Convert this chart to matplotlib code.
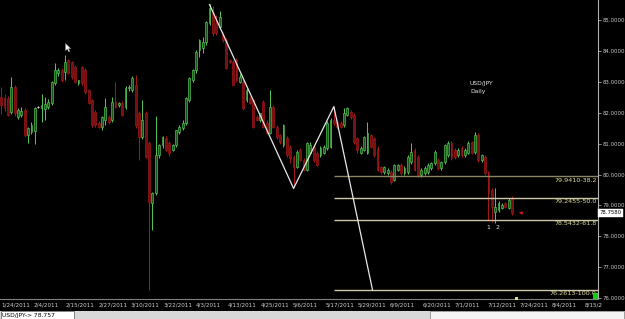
import numpy as np
import matplotlib
matplotlib.use("Agg")
import matplotlib.pyplot as plt
from matplotlib.patches import Rectangle
from matplotlib.path import Path
from matplotlib.transforms import blended_transform_factory

# ---------------- data ----------------
opens = [82.52, 82.48, 82.48, 82.02, 82.83, 81.86, 81.92, 82.09, 81.28, 81.38,
         81.40, 82.18, 82.15, 82.12, 82.18, 82.31, 82.96, 83.28, 83.38, 83.32,
         83.71, 83.64, 83.48, 82.96, 83.48, 83.38, 82.73, 82.41, 82.02, 81.67,
         81.54, 81.76, 81.86, 81.76, 82.35, 82.25, 82.31, 82.18, 82.80, 82.73,
         82.90, 81.99, 81.21, 81.99, 81.02, 79.08, 79.40, 80.63, 80.95, 81.18,
         81.02, 80.79, 80.95, 81.38, 81.50, 81.67, 82.41, 83.06, 83.38, 84.03,
         84.09, 84.29, 84.90, 85.23, 84.90, 84.77, 84.51, 84.35, 83.71, 83.64,
         83.71, 82.99, 82.99, 82.41, 82.48, 82.41, 81.86, 81.76, 82.35, 81.67,
         81.34, 82.18, 81.54, 81.28, 80.95, 81.18, 80.89, 80.57, 80.24, 80.79,
         80.47, 80.15, 80.70, 80.89, 80.70, 80.63, 80.70, 80.86, 80.89, 81.76,
         81.70, 81.67, 81.60, 81.93, 82.02, 81.93, 81.18, 80.70, 80.79, 80.70,
         81.28, 81.18, 80.86, 80.24, 80.08, 80.05, 80.08, 79.82, 80.15, 80.31,
         80.05, 80.08, 80.40, 80.79, 80.57, 79.98, 80.05, 80.08, 80.21, 80.37,
         80.47, 80.21, 80.40, 80.63, 81.02, 80.79, 80.63, 80.86, 80.63, 80.70,
         81.05, 80.73, 81.28, 80.47, 80.57, 80.08, 79.50, 78.79, 78.85, 78.92,
         79.08, 78.92, 79.24]
highs = [82.84, 82.60, 82.55, 83.16, 82.90, 82.15, 82.20, 82.15, 81.55, 81.70,
         82.20, 82.22, 82.60, 82.50, 82.45, 83.02, 83.61, 83.45, 83.45, 83.87,
         83.75, 83.68, 83.55, 83.05, 83.52, 83.45, 82.78, 82.45, 82.08, 81.72,
         81.90, 82.48, 81.92, 82.50, 82.99, 82.35, 82.38, 82.85, 82.90, 83.20,
         83.22, 82.05, 82.41, 82.05, 81.10, 79.45, 81.90, 81.00, 81.25, 81.25,
         81.08, 81.00, 81.45, 81.60, 81.75, 82.50, 83.15, 83.42, 84.02, 84.40,
         84.45, 84.98, 85.52, 85.45, 85.15, 85.30, 84.60, 84.42, 83.75, 83.70,
         83.78, 83.25, 83.05, 82.80, 82.55, 82.45, 81.92, 82.00, 82.40, 81.75,
         82.73, 82.25, 81.60, 81.32, 81.65, 81.25, 80.95, 80.62, 80.80, 80.85,
         80.52, 81.05, 81.05, 80.95, 80.75, 80.92, 80.95, 81.72, 81.82, 82.20,
         81.75, 81.72, 82.15, 82.20, 82.08, 82.00, 81.22, 80.92, 81.25, 81.70,
         81.32, 81.22, 80.92, 80.28, 80.28, 80.22, 80.15, 80.35, 80.35, 80.38,
         80.28, 80.62, 81.02, 80.85, 80.62, 80.20, 80.28, 80.36, 80.42, 80.78,
         80.52, 80.45, 81.00, 81.08, 81.08, 80.85, 80.85, 80.92, 80.85, 81.08,
         81.10, 81.38, 81.35, 80.68, 80.62, 80.12, 79.55, 79.56, 79.15, 79.08,
         79.12, 79.24, 79.30]
lows = [81.95, 82.05, 81.90, 81.95, 81.90, 81.80, 81.85, 81.20, 81.02, 81.30,
        81.00, 82.14, 81.70, 81.75, 82.12, 82.25, 82.90, 83.20, 82.99, 83.05,
        83.25, 83.10, 82.95, 82.90, 82.90, 82.62, 82.28, 81.55, 81.55, 81.50,
        81.45, 81.60, 81.65, 81.70, 82.15, 82.18, 81.88, 82.12, 82.72, 82.68,
        81.50, 80.47, 81.15, 80.55, 76.26, 78.20, 79.35, 80.55, 80.85, 80.75,
        80.60, 80.75, 80.90, 81.30, 81.45, 81.60, 82.35, 82.98, 83.30, 83.80,
        83.95, 84.20, 84.85, 84.50, 84.52, 84.70, 84.30, 83.40, 83.60, 82.90,
        83.00, 82.95, 82.10, 82.35, 82.28, 81.50, 81.72, 81.70, 81.50, 81.30,
        81.30, 81.50, 81.15, 81.00, 80.90, 80.58, 80.37, 79.58, 80.20, 80.45,
        80.10, 80.10, 80.65, 80.42, 80.28, 80.58, 80.65, 80.80, 80.85, 81.60,
        81.48, 81.50, 81.55, 81.88, 81.80, 81.00, 80.70, 80.65, 80.75, 80.65,
        80.85, 80.58, 80.10, 80.02, 80.02, 80.00, 79.70, 79.78, 80.10, 80.00,
        80.00, 80.02, 80.35, 80.10, 79.92, 79.92, 80.00, 80.02, 80.15, 80.30,
        80.15, 80.15, 80.35, 80.58, 80.48, 80.50, 80.58, 80.58, 80.58, 80.65,
        80.65, 80.68, 80.42, 80.42, 80.00, 78.53, 78.47, 78.43, 78.80, 78.88,
        78.90, 78.88, 78.68]
closes = [82.25, 82.15, 81.93, 82.83, 81.99, 82.09, 82.05, 81.28, 81.50, 81.60,
          82.15, 82.18, 82.25, 82.28, 82.35, 82.99, 83.38, 83.38, 83.06, 83.64,
          83.28, 83.16, 82.99, 83.06, 82.96, 82.67, 82.31, 81.60, 81.60, 81.54,
          81.86, 82.18, 81.70, 82.35, 82.20, 82.31, 81.93, 82.80, 82.83, 83.12,
          81.60, 81.21, 81.76, 80.57, 79.10, 79.40, 80.63, 80.95, 81.21, 80.79,
          80.70, 80.95, 81.44, 81.54, 81.67, 82.48, 83.12, 83.38, 83.96, 84.35,
          84.29, 84.94, 85.39, 84.58, 84.58, 85.10, 84.35, 83.45, 83.64, 82.90,
          83.06, 83.16, 82.15, 82.73, 82.31, 81.54, 81.76, 81.99, 81.54, 81.34,
          82.18, 81.54, 81.21, 81.05, 81.60, 80.63, 80.53, 80.24, 80.73, 80.47,
          80.15, 81.02, 80.95, 80.47, 80.31, 80.86, 80.89, 81.67, 81.76, 81.67,
          81.54, 81.54, 81.99, 82.15, 81.86, 81.05, 80.79, 80.86, 81.21, 81.34,
          80.89, 80.63, 80.15, 80.08, 80.24, 80.15, 79.76, 80.31, 80.31, 80.05,
          80.21, 80.57, 80.73, 80.15, 79.98, 80.15, 80.21, 80.31, 80.37, 80.73,
          80.21, 80.40, 80.95, 81.02, 80.53, 80.57, 80.79, 80.63, 80.79, 81.02,
          80.70, 81.28, 80.47, 80.63, 80.05, 79.40, 78.95, 78.95, 79.08, 79.01,
          78.95, 79.17, 78.76]

date_labels = ["1/24/2011", "2/4/2011", "2/15/2011", "2/27/2011", "3/10/2011",
               "3/22/2011", "4/3/2011", "4/13/2011", "4/25/2011", "5/6/2011",
               "5/17/2011", "5/29/2011", "6/9/2011", "6/20/2011", "7/1/2011",
               "7/12/2011", "7/24/2011", "8/4/2011", "8/15/2"]
label_step = 9.64          # bars between date labels

# zigzag swing points: (bar index, price)
zig_x = [62, 87, 99, 110.5]
zig_y = [85.50, 79.55, 82.20, 76.2613]

fib_levels = [79.9410, 79.2455, 78.5432, 76.2613]
fib_pcts = ["38.2", "50.0", "61.8", "100.0"]
fib_start = 99
last_price = 78.757

y_ticks = [76, 77, 78, 79, 80, 81, 82, 83, 84, 85]

NARROW = ["Liberation Sans Narrow", "DejaVu Sans"]

# ---------------- figure ----------------
W, H = 625, 319
fig = plt.figure(figsize=(W / 100, H / 100), dpi=100)
fig.patch.set_facecolor("black")

def fx(px):
    return px / W

def fy(py):
    return 1 - py / H

ax = fig.add_axes([0, fy(299), fx(598), 299 / H])
ax.set_facecolor("black")

n = len(closes)
xs = np.arange(n)
o = np.array(opens); c = np.array(closes)
hi = np.array(highs); lo = np.array(lows)
up = c > o
dn = c < o
eq = c == o

g_edge, g_face = "#58c858", "#1a561a"
r_edge, r_face = "#a81818", "#741010"

# wicks
ax.vlines(xs[up], lo[up], hi[up], color=g_edge, lw=0.7, zorder=2)
ax.vlines(xs[dn], lo[dn], hi[dn], color=r_edge, lw=0.7, zorder=2)
ax.vlines(xs[eq], lo[eq], hi[eq], color="#dddddd", lw=0.7, zorder=2)
bw = 0.55
ax.bar(xs[up], (c - o)[up], bottom=o[up], width=bw, color=g_face,
       edgecolor=g_edge, linewidth=0.45, zorder=3)
ax.bar(xs[dn], (o - c)[dn], bottom=c[dn], width=bw, color=r_face,
       edgecolor=r_edge, linewidth=0.45, zorder=3)
ax.hlines(o[eq], xs[eq] - bw / 2, xs[eq] + bw / 2, color="#dddddd", lw=0.8, zorder=3)

xmin, xmax = -0.36, 177.6
ax.set_xlim(xmin, xmax)
ax.set_ylim(75.97, 85.65)

# fib lines
fib_cols = ["#8c8462", "#cfc8a8", "#cfc8a8", "#cfc8a8"]
for lev, pct, col in zip(fib_levels, fib_pcts, fib_cols):
    ax.hlines(lev, fib_start, xmax, color=col, lw=1.0, zorder=4)
    ax.text(xmax - 0.4, lev - 0.04, f"{lev:.4f}-{pct}", color="#dede9a",
            fontsize=4.6, ha="right", va="top", zorder=5, family=NARROW)

# zigzag
ax.plot(zig_x, zig_y, color="#e8e8e8", lw=0.9, zorder=5)

# pattern labels
ax.text(145, 78.30, "1", color="#dddddd", fontsize=4.5, ha="center", va="center")
ax.text(147.6, 78.30, "2", color="#dddddd", fontsize=4.5, ha="center", va="center")

# instrument label
ax.text(139.5, 82.96, "USD/JPY", color="#e8e8e8", fontsize=4.3, ha="left", va="center")
ax.text(139.5, 82.70, "Daily", color="#e8e8e8", fontsize=4.3, ha="left", va="center")

# red arrow pointing at last candle
ax.annotate("", xy=(153.2, last_price), xytext=(156.0, last_price),
            arrowprops=dict(arrowstyle="-|>", color="#c01818", lw=0.8,
                            mutation_scale=4), zorder=6)

# mouse cursor
cursor = Path([(0, 0), (0, -10), (2.6, -7.6), (4.4, -11.6), (6.0, -10.9),
               (4.2, -7.1), (7.4, -7.1), (0, 0)])
ax.plot([19.0], [84.25], marker=cursor, markersize=12, color="white",
        markeredgecolor="#888888", markeredgewidth=0.3, zorder=7)

# axes styling
for s in ["top", "left"]:
    ax.spines[s].set_visible(False)
ax.spines["right"].set_color("#b0b0b0")
ax.spines["right"].set_linewidth(0.8)
ax.spines["bottom"].set_color("#808080")
ax.spines["bottom"].set_linewidth(0.8)

ax.yaxis.tick_right()
ax.set_yticks(y_ticks)
ax.set_yticklabels([f"{v:.4f}" for v in y_ticks])
ax.tick_params(axis="y", colors="#c8c8c8", labelsize=3.9, length=1.8, width=0.5, pad=1.2)
for t in ax.get_yticklabels():
    t.set_fontfamily(NARROW)

tick_pos = np.arange(len(date_labels)) * label_step
ax.set_xticks(tick_pos)
ax.set_xticklabels(date_labels)
ax.tick_params(axis="x", colors="#d0d0d0", labelsize=4.1, length=0, pad=2.2)
for t in ax.get_xticklabels():
    t.set_ha("left")
    t.set_fontfamily(NARROW)

# price tag on the axis
tr = blended_transform_factory(ax.transAxes, ax.transData)
ax.text(1.003, last_price, "78.7580", transform=tr, color="black", fontsize=3.9,
        ha="left", va="center", family=NARROW,
        bbox=dict(boxstyle="square,pad=0.25", fc="white", ec="white", lw=0.3),
        zorder=10, clip_on=False)

# small markers on the frame
fig.patches.append(Rectangle((fx(593), fy(299)), fx(5), 6 / H, transform=fig.transFigure,
                             facecolor="#10d010", edgecolor="none", zorder=20))
fig.patches.append(Rectangle((fx(515), fy(300)), fx(2.5), 3 / H, transform=fig.transFigure,
                             facecolor="#e0e080", edgecolor="none", zorder=20))

# status bar at the bottom
fig.patches.append(Rectangle((0, 0), 1, 8.5 / H, transform=fig.transFigure,
                             facecolor="#d8d8d8", edgecolor="none", zorder=1))
fig.patches.append(Rectangle((fx(0.5), 0), fx(73), 8 / H, transform=fig.transFigure,
                             facecolor="white", edgecolor="#707070", lw=0.6, zorder=2))
fig.patches.append(Rectangle((fx(430), 0), fx(194), 8 / H, transform=fig.transFigure,
                             facecolor="#f4f4f4", edgecolor="#909090", lw=0.6, zorder=2))
fig.text(fx(2), fy(315), "USD/JPY-> 78.757", fontsize=4.3, color="black",
         ha="left", va="center", family=NARROW)

fig.savefig("out.png", dpi=100, facecolor=fig.get_facecolor())
